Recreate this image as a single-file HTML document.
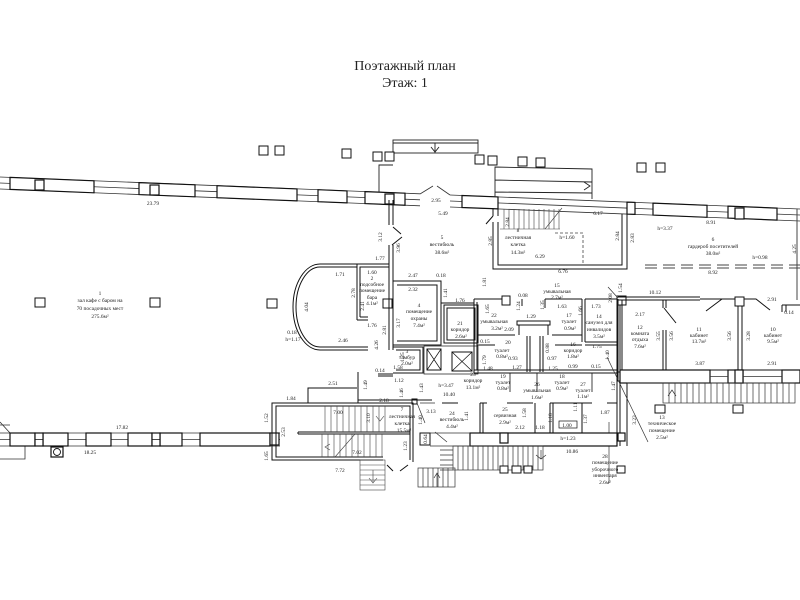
<!DOCTYPE html>
<html><head><meta charset="utf-8">
<style>
html,body{margin:0;padding:0;background:#fff;}
svg{display:block}
text{font-family:"Liberation Serif",serif;fill:#1a1a1a;}
.t{font-size:5.4px;text-anchor:middle}
.ti{font-size:14px;text-anchor:middle;fill:#222}
</style></head><body>
<svg width="800" height="600" viewBox="0 0 800 600" xmlns="http://www.w3.org/2000/svg">
<rect width="800" height="600" fill="#fff"/>
<text class="ti" x="405" y="70">Поэтажный план</text>
<text class="ti" x="405" y="87">Этаж: 1</text>

<!-- top outer wall -->
<g fill="none" stroke="#333" stroke-width="0.8">
<path d="M0,177 L420,193.8 M450,195 L800,209 M0,189 L420,205.8 M450,207 L800,221 M0,183 L420,199.8 M450,201 L800,215"/>
<path d="M420,194 L433,186 M450,195 L437,186"/>
</g>
<g fill="#fff" stroke="#111" stroke-width="1.2">
<polygon points="10,177.4 94,180.8 94,192.8 10,189.4"/>
<polygon points="139,182.6 195,184.8 195,196.8 139,194.6"/>
<polygon points="217,185.7 297,188.9 297,200.9 217,197.7"/>
<polygon points="318,189.7 347,190.9 347,202.9 318,201.7"/>
<polygon points="365,191.6 405,193.2 405,205.2 365,203.6"/>
<polygon points="462,195.5 498,196.9 498,208.9 462,207.5"/>
<polygon points="627,202.1 635,202.4 635,214.4 627,214.1"/>
<polygon points="653,203.1 707,205.3 707,217.3 653,215.1"/>
<polygon points="728,206.1 777,208.1 777,220.1 728,218.1"/>
<rect x="35" y="180" width="9" height="10"/>
<rect x="150" y="185" width="9" height="10"/>
<rect x="385" y="194" width="9" height="10"/>
<rect x="735" y="208" width="9" height="11"/>
</g>

<!-- porch and outside stairs -->
<g fill="none" stroke="#222" stroke-width="0.9">
<rect x="393" y="140" width="85" height="13"/>
<line x1="393" y1="143" x2="478" y2="143"/>
<line x1="435" y1="143" x2="435" y2="153"/>
<path d="M431,147 L435,152 L439,147"/>
<path d="M379,192 L379,165 L393,165"/>
<path d="M495,197 L495,167 L592,169 L592,199 M495,180 L592,182 M495,192 L592,193"/>
<path d="M584,182 L590,186 L584,190"/>
</g>
<g fill="#fff" stroke="#111" stroke-width="1">
<rect x="259" y="146" width="9" height="9"/>
<rect x="275" y="146" width="9" height="9"/>
<rect x="342" y="149" width="9" height="9"/>
<rect x="373" y="152" width="9" height="9"/>
<rect x="385" y="152" width="9" height="9"/>
<rect x="475" y="155" width="9" height="9"/>
<rect x="488" y="156" width="9" height="9"/>
<rect x="518" y="157" width="9" height="9"/>
<rect x="536" y="158" width="9" height="9"/>
<rect x="637" y="163" width="9" height="9"/>
<rect x="656" y="163" width="9" height="9"/>
<!-- hall columns -->
<rect x="35" y="298" width="10" height="9"/>
<rect x="150" y="298" width="10" height="9"/>
<rect x="267" y="299" width="10" height="9"/>
<rect x="383" y="299" width="9" height="9"/>
<rect x="502" y="296" width="8" height="9"/>
<rect x="617" y="296" width="9" height="9"/>
<rect x="735" y="297" width="9" height="9"/>
<rect x="618" y="372" width="9" height="9"/>
</g>

<!-- top stair room -->
<g fill="none" stroke="#111" stroke-width="1">
<path d="M493,222 L493,269 L627,269 L627,214"/>
<path d="M498,222 L498,265 L622,265 L622,214"/>
<path d="M493,208 L493,216 M498,208 L498,216 M493,216 L486,224"/>
</g>
<g fill="none" stroke="#444" stroke-width="0.6">
<path d="M504,209 L504,229 M509,209 L509,229 M514,209 L514,229 M519,209 L519,229 M524,209 L524,229 M529,209 L529,229 M534,209 L534,229 M539,209 L539,229 M544,209 L544,229 M549,209 L549,229 M554,209 L554,229 M559,209 L559,229 M500,229 L560,229 M545,229 L562,208"/>
<path d="M555,233 L583,233 L583,263" stroke-dasharray="3,2" stroke-width="0.8"/>
<path d="M645,265 L800,265 M645,268 L800,268" stroke-dasharray="12,6" stroke-width="0.9"/>
<line x1="797" y1="209" x2="797" y2="300" stroke-width="1"/>
</g>

<!-- vestibule left wall / bar / room 2 -->
<g fill="none" stroke="#111" stroke-width="1">
<path d="M389,200 L389,225 M393,200 L393,225"/>
<path d="M393,227 L401,234 M392,245 L402,237"/>
<path d="M389,245 L389,350 M393,245 L393,350"/>
<path d="M357,264 L320,264 A27,43 0 0 0 320,350 L368,350"/>
<path d="M357,267 L320,267 A24,40 0 0 0 320,347 L368,347"/>
<path d="M357,320 L357,264 L389,264 M360,317 L360,267 L389,267"/>
<path d="M357,320 L368,320 M360,317 L368,317"/>
<!-- room 4 -->
<path d="M393,281 L441,281 L441,345 L393,345 M397,285 L437,285 L437,341 L397,341"/>
<!-- tambour & elevators -->
<path d="M393,347 L423,347 L423,373 L393,373 M396,350 L420,350 L420,370 L396,370"/>
<rect x="424" y="346" width="54" height="28" stroke-width="0.7"/>
<rect x="427" y="349" width="14" height="21"/>
<path d="M427,349 L441,370 M441,349 L427,370" stroke-width="0.7"/>
<rect x="452" y="352" width="20" height="19"/>
<path d="M452,352 L472,371 M472,352 L452,371" stroke-width="0.7"/>
<path d="M378,374 L393,374 M378,376 L393,376"/>
<!-- room 21 -->
<path d="M444,305 L478,305 L478,343 L444,343 Z M447,308 L475,308 L475,340 L447,340 Z"/>
<path d="M441,303 L474,303"/>
<!-- block 22-14 -->
<path d="M474,299 L502,299 M545,299 L582,299 M585,299 L617,299"/>
<path d="M474,299 L474,373 M477,302 L477,370"/>
<path d="M582,299 L582,342 M585,299 L585,342 M585,342 L617,342 M585,345 L617,345"/>
<path d="M617,299 L617,373 M620,305 L620,372"/>
<path d="M477,335 L515,335 M552,335 L582,335"/>
<path d="M517,321 L550,321 L550,325 L517,325 Z M519,325 L519,335 M548,325 L548,335"/>
<path d="M527,336 L527,372 M530,336 L530,372 M540,336 L540,372 M543,336 L543,372"/>
<path d="M477,345 L495,345 M555,345 L582,345"/>
<path d="M474,370 L617,370 M474,373 L617,373"/>
<path d="M545,299 L545,308 M522,299 L522,306"/>
<!-- lower rooms 23-28 -->
<path d="M442,403 L458,403 M480,403 L487,403 M507,403 L533,403 M550,403 L592,403 M607,403 L617,403"/>
<path d="M480,403 L480,433 M483,403 L483,433 M535,403 L535,433 M550,403 L550,433 M553,403 L553,433 M582,403 L582,433"/>
<path d="M510,373 L510,392 M537,373 L537,392 M592,373 L592,392" stroke-width="0.8"/>
<rect x="559" y="421" width="18" height="7" stroke-width="0.7"/>
<path d="M617,370 L617,446 M627,370 L627,446 M620,372 L620,446"/>
<line x1="609" y1="422" x2="609" y2="483" stroke-width="0.6"/>
</g>

<!-- lower thick wall -->
<g fill="#fff" stroke="#111" stroke-width="1.2">
<rect x="470" y="433" width="147" height="13"/>
<rect x="500" y="433" width="8" height="10"/>
<rect x="618" y="433" width="7" height="8"/>
</g>
<g fill="none" stroke="#333" stroke-width="0.7">
<path d="M430,433 L470,433 M430,446 L470,446"/>
<rect x="453" y="446" width="90" height="24"/>
<path d="M458,446 V470 M463,446 V470 M468,446 V470 M473,446 V470 M478,446 V470 M483,446 V470 M488,446 V470 M493,446 V470 M498,446 V470 M503,446 V470 M508,446 V470 M513,446 V470 M518,446 V470 M523,446 V470 M528,446 V470 M533,446 V470 M538,446 V470"/>
<path d="M440,450 L453,450 M440,455 L453,455 M440,460 L453,460 M440,465 L453,465 M440,470 L453,470"/>
<path d="M536,455 L541,459 L546,455 M541,450 V459"/>
<rect x="418" y="468" width="37" height="19"/>
<path d="M423,468 V487 M428,468 V487 M433,468 V487 M438,468 V487 M443,468 V487 M448,468 V487 M437,487 V474 M434,478 L437,473 L440,478"/>
<path d="M417,403 L425,423 M435,432 L447,442 M420,403 L435,403"/>
</g>
<g fill="#fff" stroke="#111" stroke-width="1">
<rect x="500" y="466" width="8" height="7"/>
<rect x="512" y="466" width="9" height="7"/>
<rect x="524" y="466" width="8" height="7"/>
<rect x="617" y="466" width="8" height="7"/>
<rect x="420" y="433" width="10" height="12"/>
</g>

<!-- right rooms 10-12 -->
<g fill="none" stroke="#111" stroke-width="1">
<path d="M618,297 L700,297 M618,300 L700,300"/>
<path d="M618,299 L618,372 M622,300 L622,370"/>
<path d="M663,300 L663,308 M666,300 L666,308 M664,308 L676,323"/>
<path d="M700,299 L722,299 M722,299 L735,299 M722,299 L706,311"/>
<path d="M744,299 L756,299 L770,310 M782,305 L800,305 M782,305 L782,312 M786,305 L786,312"/>
<path d="M663,330 L663,370 M666,330 L666,370 M738,306 L738,370 M742,306 L742,370"/>
<path d="M620,370 L800,370 M620,383 L800,383"/>
</g>
<g fill="#fff" stroke="#111" stroke-width="1.2">
<rect x="620" y="370" width="90" height="13"/>
<rect x="728" y="370" width="15" height="13"/>
<rect x="735" y="370" width="8" height="13"/>
<rect x="782" y="370" width="18" height="13"/>
</g>
<g fill="none" stroke="#333" stroke-width="0.7">
<path d="M710,376.5 L728,376.5 M743,376.5 L782,376.5"/>
<path d="M627,383 L663,383"/>
<rect x="663" y="383" width="132" height="20"/>
<path d="M669,383 V403 M675,383 V403 M681,383 V403 M687,383 V403 M693,383 V403 M699,383 V403 M705,383 V403 M711,383 V403 M717,383 V403 M723,383 V403 M729,383 V403 M735,383 V403 M741,383 V403 M747,383 V403 M753,383 V403 M759,383 V403 M765,383 V403 M771,383 V403 M777,383 V403 M783,383 V403 M789,383 V403"/>
<path d="M668,396 L672,390 L676,396"/>
<path d="M607,357 L648,442 M608,287 L618,298"/>
</g>
<g fill="#fff" stroke="#111" stroke-width="1">
<rect x="655" y="405" width="10" height="8"/>
<rect x="733" y="405" width="10" height="8"/>
</g>

<!-- hall bottom wall -->
<g fill="none" stroke="#333" stroke-width="0.8">
<path d="M0,433 L280,433 M0,446 L280,446 M0,439.5 L280,439.5"/>
<path d="M0,422 L10,433 M0,425 L10,425 M25,446 L25,459 L0,459"/>
</g>
<g fill="#fff" stroke="#111" stroke-width="1.2">
<rect x="10" y="433" width="25" height="13"/>
<rect x="43" y="433" width="25" height="13"/>
<rect x="86" y="433" width="25" height="13"/>
<rect x="128" y="433" width="24" height="13"/>
<rect x="160" y="433" width="22" height="13"/>
<rect x="200" y="433" width="70" height="13"/>
<rect x="35" y="433" width="8" height="13"/>
<rect x="152" y="433" width="8" height="13"/>
<rect x="270" y="433" width="9" height="12"/>
<rect x="51" y="447" width="12" height="10"/>
</g>
<circle cx="57" cy="452" r="3.5" fill="none" stroke="#111" stroke-width="0.9"/>
<path d="M35,439.5 H43 M152,439.5 H160" stroke="#111" stroke-width="0.8"/>

<!-- bottom-left stair room -->
<g fill="none" stroke="#111" stroke-width="1">
<path d="M383,460 L272,460 L272,403 L413,403 L413,462"/>
<path d="M383,457 L276,457 L276,406 L410,406 L410,460"/>
<path d="M298,432 L410,432 M298,434 L410,434 M298,432 L298,434"/>
<path d="M308,403 L308,388 L357,388 M358,372 L358,403"/>
<path d="M358,400 L432,400"/>
<rect x="412" y="399" width="5" height="5"/>
<path d="M387,465 L393,471 M408,465 L400,471"/>
</g>
<g fill="none" stroke="#444" stroke-width="0.6">
<path d="M325,406 V432 M331,406 V432 M337,406 V432 M343,406 V432 M349,406 V432 M355,406 V432 M361,406 V432 M367,406 V432 M373,406 V432 M379,406 V432 M385,406 V432"/>
<path d="M322,434 V457 M328,434 V457 M334,434 V457 M340,434 V457 M346,434 V457 M352,434 V457 M358,434 V457 M364,434 V457 M370,434 V457 M376,434 V457 M382,434 V457"/>
<path d="M335,457 L355,434 M376,416 L380,421 L384,416 M330,444 L325,447 L330,450"/>
<rect x="360" y="460" width="25" height="30"/>
<path d="M360,465 H385 M360,470 H385 M360,475 H385 M360,480 H385 M360,485 H385 M373,470 V482 M369,478 L373,483 L377,478"/>
</g>

<!-- labels -->
<g class="t">
<text x="153" y="205">23.79</text>
<text x="436" y="202">2.95</text>
<text x="443" y="215">5.49</text>
<text x="442" y="239">5</text>
<text x="442" y="246">вестибюль</text>
<text x="442" y="254">38.6м²</text>
<text x="380" y="260">1.77</text>
<text x="340" y="276">1.71</text>
<text x="372" y="274">1.60</text>
<text x="372" y="280">2</text>
<text x="372" y="286">подсобное</text>
<text x="372" y="292">помещение</text>
<text x="372" y="299">бара</text>
<text x="372" y="305">4.1м²</text>
<text x="413" y="277">2.47</text>
<text x="441" y="277">0.18</text>
<text x="413" y="291">2.32</text>
<text x="372" y="327">1.76</text>
<text x="419" y="307">4</text>
<text x="419" y="313">помещение</text>
<text x="419" y="320">охраны</text>
<text x="419" y="327">7.4м²</text>
<text x="292" y="334">0.18</text>
<text x="293" y="341">h=1.17</text>
<text x="343" y="342">2.46</text>
<text x="100" y="295">1</text>
<text x="100" y="302">зал кафе с баром на</text>
<text x="100" y="310">70 посадочных мест</text>
<text x="100" y="318">275.6м²</text>
<text x="518" y="232">8</text>
<text x="518" y="239">лестничная</text>
<text x="518" y="246">клетка</text>
<text x="518" y="254">14.3м²</text>
<text x="598" y="215">6.17</text>
<text x="567" y="239">h=1.60</text>
<text x="540" y="258">6.29</text>
<text x="563" y="273">6.76</text>
<text x="665" y="230">h=3.37</text>
<text x="711" y="224">8.91</text>
<text x="713" y="241">6</text>
<text x="713" y="248">гардероб посетителей</text>
<text x="713" y="255">38.0м²</text>
<text x="760" y="259">h=0.98</text>
<text x="713" y="274">8.92</text>
<text x="557" y="287">15</text>
<text x="557" y="293">умывальная</text>
<text x="557" y="299">2.7м²</text>
<text x="655" y="294">10.12</text>
<text x="772" y="301">2.91</text>
<text x="789" y="314">0.14</text>
<text x="640" y="316">2.17</text>
<text x="640" y="329">12</text>
<text x="640" y="335">комната</text>
<text x="640" y="341">отдыха</text>
<text x="640" y="348">7.6м²</text>
<text x="699" y="331">11</text>
<text x="699" y="337">кабинет</text>
<text x="699" y="343">13.7м²</text>
<text x="773" y="331">10</text>
<text x="773" y="337">кабинет</text>
<text x="773" y="343">9.5м²</text>
<text x="700" y="365">3.87</text>
<text x="772" y="365">2.91</text>
<text x="460" y="302">1.76</text>
<text x="460" y="325">21</text>
<text x="460" y="331">коридор</text>
<text x="461" y="338">2.6м²</text>
<text x="494" y="317">22</text>
<text x="494" y="323">умывальная</text>
<text x="497" y="330">3.2м²</text>
<text x="523" y="297">0.08</text>
<text x="509" y="331">2.09</text>
<text x="531" y="318">1.29</text>
<text x="562" y="308">1.63</text>
<text x="569" y="317">17</text>
<text x="569" y="323">туалет</text>
<text x="570" y="330">0.9м²</text>
<text x="596" y="308">1.73</text>
<text x="599" y="318">14</text>
<text x="599" y="324">санузел для</text>
<text x="599" y="331">инвалидов</text>
<text x="599" y="338">3.5м²</text>
<text x="485" y="343">0.15</text>
<text x="508" y="344">20</text>
<text x="502" y="352">туалет</text>
<text x="502" y="358">0.8м²</text>
<text x="488" y="370">1.48</text>
<text x="513" y="360">0.93</text>
<text x="517" y="369">1.27</text>
<text x="573" y="346">16</text>
<text x="573" y="352">коридор</text>
<text x="573" y="358">1.8м²</text>
<text x="552" y="360">0.97</text>
<text x="553" y="370">1.25</text>
<text x="573" y="368">0.99</text>
<text x="597" y="348">1.75</text>
<text x="596" y="368">0.15</text>
<text x="407" y="353">3</text>
<text x="407" y="359">тамбур</text>
<text x="407" y="365">2.0м²</text>
<text x="398" y="369">1.58</text>
<text x="380" y="372">0.14</text>
<text x="399" y="382">1.12</text>
<text x="446" y="387">h=3.47</text>
<text x="473" y="376">23</text>
<text x="473" y="382">коридор</text>
<text x="473" y="389">13.1м²</text>
<text x="449" y="396">10.40</text>
<text x="503" y="378">19</text>
<text x="503" y="384">туалет</text>
<text x="503" y="390">0.8м²</text>
<text x="537" y="386">26</text>
<text x="537" y="392">умывальная</text>
<text x="537" y="399">1.6м²</text>
<text x="562" y="378">18</text>
<text x="562" y="384">туалет</text>
<text x="562" y="390">0.9м²</text>
<text x="583" y="386">27</text>
<text x="583" y="392">туалет</text>
<text x="583" y="398">1.1м²</text>
<text x="452" y="415">24</text>
<text x="452" y="421">вестибюль</text>
<text x="452" y="428">4.4м²</text>
<text x="431" y="413">3.13</text>
<text x="505" y="411">25</text>
<text x="505" y="417">сервизная</text>
<text x="505" y="424">2.9м²</text>
<text x="520" y="429">2.12</text>
<text x="540" y="429">1.18</text>
<text x="567" y="427">1.00</text>
<text x="605" y="414">1.87</text>
<text x="568" y="440">h=1.23</text>
<text x="572" y="453">10.86</text>
<text x="605" y="458">28</text>
<text x="605" y="464">помещение</text>
<text x="605" y="471">уборочного</text>
<text x="605" y="477">инвентаря</text>
<text x="605" y="484">2.6м²</text>
<text x="662" y="419">13</text>
<text x="662" y="425">техническое</text>
<text x="662" y="432">помещение</text>
<text x="662" y="439">2.5м²</text>
<text x="333" y="385">2.51</text>
<text x="291" y="400">1.84</text>
<text x="384" y="402">2.18</text>
<text x="338" y="414">7.00</text>
<text x="402" y="411">7</text>
<text x="402" y="418">лестничная</text>
<text x="402" y="425">клетка</text>
<text x="404" y="432">15.5м²</text>
<text x="357" y="454">7.02</text>
<text x="340" y="472">7.72</text>
<text x="122" y="429">17.82</text>
<text x="90" y="454">18.25</text>
</g>
<!-- vertical labels -->
<g class="t">
<text transform="translate(509,222) rotate(-90)">2.84</text>
<text transform="translate(492,241) rotate(-90)">2.85</text>
<text transform="translate(619,236) rotate(-90)">2.84</text>
<text transform="translate(634,238) rotate(-90)">2.83</text>
<text transform="translate(796,249) rotate(-90)">4.25</text>
<text transform="translate(486,282) rotate(-90)">1.81</text>
<text transform="translate(382,237) rotate(-90)">3.12</text>
<text transform="translate(400,248) rotate(-90)">3.96</text>
<text transform="translate(622,288) rotate(-90)">1.54</text>
<text transform="translate(660,336) rotate(-90)">3.55</text>
<text transform="translate(673,336) rotate(-90)">3.56</text>
<text transform="translate(731,336) rotate(-90)">3.56</text>
<text transform="translate(750,336) rotate(-90)">3.28</text>
<text transform="translate(489,309) rotate(-90)">1.65</text>
<text transform="translate(520,306) rotate(-90)">1.24</text>
<text transform="translate(544,305) rotate(-90)">1.35</text>
<text transform="translate(582,311) rotate(-90)">1.66</text>
<text transform="translate(612,298) rotate(-90)">2.08</text>
<text transform="translate(486,360) rotate(-90)">1.79</text>
<text transform="translate(549,348) rotate(-90)">0.88</text>
<text transform="translate(609,355) rotate(-90)">1.40</text>
<text transform="translate(404,357) rotate(-90)">1.25</text>
<text transform="translate(378,345) rotate(-90)">4.26</text>
<text transform="translate(386,330) rotate(-90)">2.81</text>
<text transform="translate(355,293) rotate(-90)">2.78</text>
<text transform="translate(308,307) rotate(-90)">4.04</text>
<text transform="translate(364,306) rotate(-90)">2.41</text>
<text transform="translate(400,323) rotate(-90)">3.17</text>
<text transform="translate(447,293) rotate(-90)">1.41</text>
<text transform="translate(423,388) rotate(-90)">1.43</text>
<text transform="translate(403,393) rotate(-90)">1.46</text>
<text transform="translate(615,386) rotate(-90)">1.47</text>
<text transform="translate(468,416) rotate(-90)">1.41</text>
<text transform="translate(526,413) rotate(-90)">1.58</text>
<text transform="translate(552,418) rotate(-90)">1.18</text>
<text transform="translate(577,407) rotate(-90)">1.11</text>
<text transform="translate(587,419) rotate(-90)">1.37</text>
<text transform="translate(636,420) rotate(-90)">3.23</text>
<text transform="translate(367,385) rotate(-90)">1.49</text>
<text transform="translate(370,418) rotate(-90)">3.10</text>
<text transform="translate(268,418) rotate(-90)">1.52</text>
<text transform="translate(285,432) rotate(-90)">2.53</text>
<text transform="translate(422,420) rotate(-90)">1.40</text>
<text transform="translate(427,439) rotate(-90)">0.64</text>
<text transform="translate(407,446) rotate(-90)">1.23</text>
<text transform="translate(268,456) rotate(-90)">1.65</text>
</g>
</svg>
</body></html>
